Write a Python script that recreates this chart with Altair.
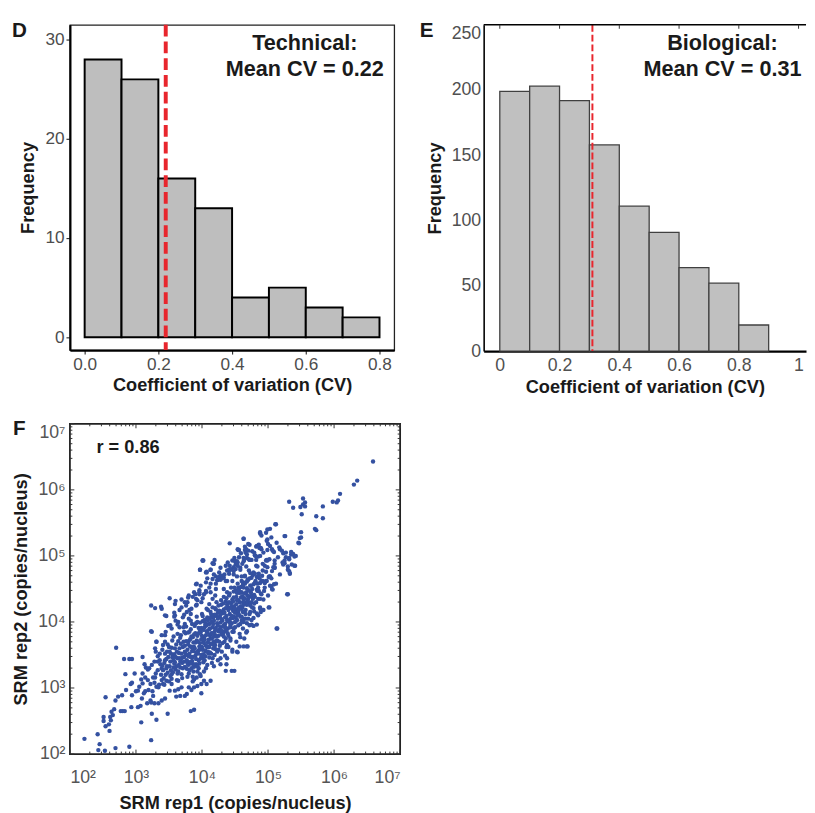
import altair as alt
import pandas as pd

FONT = "Liberation Sans"

# ---------------- Panel D: technical CV histogram ----------------
tech_edges = [0.0, 0.1, 0.2, 0.3, 0.4, 0.5, 0.6, 0.7, 0.8]
tech_counts = [28, 26, 16, 13, 4, 5, 3, 2]
tech_mean_cv = [0.22]
tech_note = ["Technical:", "Mean CV = 0.22"]
tech_xticks = [0.0, 0.2, 0.4, 0.6, 0.8]
tech_yticks = [0, 10, 20, 30]

# ---------------- Panel E: biological CV histogram ----------------
bio_edges = [0.0, 0.1, 0.2, 0.3, 0.4, 0.5, 0.6, 0.7, 0.8, 0.9]
bio_counts = [199, 203, 192, 158, 111, 91, 64, 52, 20]
bio_mean_cv = [0.31]
bio_note = ["Biological:", "Mean CV = 0.31"]
bio_xticks = [0, 0.2, 0.4, 0.6, 0.8, 1.0]
bio_yticks = [0, 50, 100, 150, 200, 250]

# ---------------- Panel F: SRM rep1 vs rep2 (log10 copies/nucleus) ----------------
corr_note = "r = 0.86"
decade_ticks = [1e2, 1e3, 1e4, 1e5, 1e6, 1e7]
minor_steps = [2, 3, 4, 5, 6, 7, 8, 9]

high_tail = [
    (6.59, 6.43), (6.35, 6.14), (6.30, 6.08), (6.09, 5.94), (6.06, 5.84), (6.04, 5.81),
    (5.98, 5.82), (5.83, 5.75), (5.83, 5.57), (5.73, 5.60), (5.71, 5.41), (5.73, 5.39),
    (5.32, 5.82), (5.38, 5.73), (5.49, 5.74), (5.53, 5.87), (5.56, 5.81), (5.53, 5.78),
    (5.56, 5.75), (5.51, 5.63), (5.50, 5.36), (5.46, 5.20), (5.48, 5.27), (5.12, 5.48),
    (5.03, 5.41), (5.26, 5.30), (4.97, 5.35), (4.99, 5.25), (4.88, 5.34), (4.63, 5.26),
    (4.42, 5.19),
]

upper_spread = [
    (4.54, 5.10), (4.65, 5.14), (4.72, 5.17), (4.83, 5.15), (4.90, 5.10), (4.99, 5.09),
    (5.07, 5.08), (5.18, 5.10), (5.23, 5.04), (5.27, 4.98), (5.32, 4.95), (5.35, 5.02),
    (5.40, 4.99), (5.41, 4.85), (5.32, 4.77), (5.23, 4.87), (5.10, 4.93), (4.97, 4.93),
    (5.33, 4.73), (5.29, 4.42), (5.13, 3.90), (5.01, 4.22), (4.93, 4.34), (5.06, 4.50),
    (5.01, 4.68), (5.11, 5.48), (4.99, 5.40), (4.88, 5.36), (4.90, 5.31), (5.25, 5.30),
    (5.50, 5.28), (5.47, 5.19), (5.05, 5.28), (4.98, 5.23), (4.63, 5.26), (4.70, 5.18),
    (4.67, 5.10), (4.56, 5.09), (4.82, 5.14), (4.89, 5.12), (5.03, 5.15), (5.09, 5.06),
    (5.17, 5.13), (5.21, 5.08), (5.27, 5.05), (5.35, 5.06), (5.38, 5.03), (5.42, 5.00),
    (5.32, 4.97), (5.25, 4.89), (5.30, 4.84), (5.36, 4.87), (5.10, 4.82), (4.98, 4.94),
    (4.95, 4.85), (4.85, 4.99), (4.80, 5.01), (4.75, 4.94), (4.68, 4.97), (4.63, 4.92),
    (4.67, 4.84), (4.58, 4.82), (4.51, 4.87), (4.42, 4.85), (4.48, 4.77), (4.38, 4.78),
    (4.28, 4.70), (4.21, 4.69), (4.28, 4.64), (4.01, 4.93), (3.97, 4.79), (4.07, 4.75),
    (4.13, 4.79), (4.19, 4.94), (4.17, 4.88), (3.92, 4.58), (4.36, 4.62), (4.46, 4.62),
    (4.53, 4.69), (4.60, 4.69), (4.70, 4.64), (4.78, 4.75), (4.85, 4.69), (4.92, 4.62),
    (5.02, 4.69), (5.09, 4.57), (4.80, 4.59), (4.95, 4.59), (4.62, 4.59), (4.55, 5.09),
    (4.65, 5.09), (4.18, 4.88), (4.53, 4.92), (4.41, 4.79), (4.48, 4.83), (4.58, 4.79),
    (4.26, 4.68), (4.33, 4.67), (4.38, 4.62), (4.48, 4.72), (4.02, 4.93), (4.06, 4.75),
    (4.16, 4.89), (4.24, 4.64), (4.30, 4.70), (4.43, 4.79), (4.50, 4.92), (4.54, 4.85),
    (4.63, 4.97), (4.68, 5.02), (4.72, 4.94), (4.82, 4.94), (4.88, 5.00), (4.84, 4.84),
    (4.73, 4.74), (4.65, 4.69),
]

right_spread = [
    (4.99, 4.93), (5.10, 4.82), (5.30, 4.79), (5.33, 4.74), (5.40, 4.85), (5.25, 4.93),
    (5.03, 4.69), (4.97, 4.62), (5.05, 4.54), (5.07, 4.49), (5.30, 4.42), (5.02, 4.22),
    (4.89, 4.15), (4.78, 4.21), (4.79, 4.16), (4.83, 3.96), (4.75, 3.96), (5.14, 3.90),
    (4.70, 4.05), (4.63, 4.00), (4.68, 3.86), (4.64, 3.75), (4.58, 3.77), (4.69, 3.63),
    (4.57, 3.63), (4.54, 3.54), (4.88, 4.59), (4.83, 4.49), (4.73, 4.39), (4.75, 4.30),
    (4.63, 4.35), (4.60, 4.20), (4.85, 4.35), (4.90, 4.42), (4.78, 3.94), (4.68, 3.63),
    (4.63, 3.63), (4.53, 3.55), (4.49, 3.26), (4.45, 3.26), (4.36, 3.26), (4.37, 3.36),
    (4.28, 3.36), (4.18, 3.33), (4.13, 3.11), (4.07, 3.06), (3.99, 2.92), (3.88, 2.67),
    (3.83, 2.65), (3.67, 2.88), (3.77, 2.91), (4.73, 4.15), (4.63, 4.05), (4.55, 3.95),
    (4.48, 3.85), (4.43, 3.75), (4.36, 3.75), (4.38, 3.65), (4.46, 3.55), (4.38, 3.45),
    (4.28, 3.45), (4.23, 3.55), (4.18, 3.65), (4.13, 3.75), (4.20, 3.80), (4.28, 3.85),
    (4.33, 3.95), (4.40, 4.02), (4.48, 4.08), (4.55, 4.16), (4.60, 4.08), (4.68, 3.98),
    (4.75, 4.03), (4.83, 4.13), (4.88, 4.22), (4.50, 4.00), (4.43, 3.92), (4.01, 3.45),
    (4.06, 3.55), (4.11, 3.62), (4.16, 3.45), (4.08, 3.35), (4.03, 3.25), (3.93, 3.25),
    (3.86, 3.10), (3.81, 3.27), (3.88, 3.32), (3.96, 3.37), (3.80, 3.01), (3.84, 2.97),
    (3.88, 3.01), (3.93, 3.03), (3.99, 3.06), (4.03, 3.11), (3.98, 3.18), (3.92, 3.16),
    (3.86, 3.17),
]

low_tail = [
    (2.22, 2.23), (2.42, 2.30), (2.45, 2.15), (2.43, 2.06), (2.53, 2.05), (2.69, 2.09),
    (2.90, 2.11), (3.23, 2.21), (3.08, 2.48), (3.31, 2.52), (3.48, 2.61), (3.24, 2.61),
    (2.54, 2.42), (2.51, 2.50), (2.51, 2.56), (2.60, 2.35), (2.59, 2.45), (2.62, 2.51),
    (2.61, 2.56), (2.65, 2.59), (2.63, 2.64), (2.67, 2.68), (2.54, 2.86), (2.69, 2.81),
    (2.73, 2.87), (2.79, 2.89), (2.77, 2.65), (2.80, 2.65), (2.83, 2.65), (2.84, 3.21),
    (2.85, 2.97), (2.92, 3.06), (2.94, 3.08), (2.94, 2.89), (2.70, 3.61), (2.82, 3.44),
    (2.90, 3.44), (2.94, 3.44), (3.10, 3.47), (2.93, 2.71), (3.03, 2.71), (3.07, 2.73),
    (3.09, 2.84), (3.03, 2.96), (3.14, 2.95), (3.19, 2.97), (3.17, 2.77), (3.22, 2.81),
    (3.26, 2.88), (3.28, 2.77), (3.34, 2.77), (3.39, 2.81), (3.44, 2.84), (3.10, 3.07),
    (3.14, 3.16), (3.08, 3.13), (3.10, 3.22), (3.15, 3.31), (3.13, 3.36), (3.18, 3.28),
    (3.24, 3.35), (3.30, 3.55), (3.31, 3.70), (3.44, 3.70), (3.33, 3.40), (3.39, 3.30),
    (3.22, 3.06), (3.29, 3.16), (3.34, 3.01), (3.41, 3.06), (3.46, 3.11), (3.54, 3.06),
    (3.51, 2.96), (3.59, 2.96), (3.64, 2.98), (3.69, 3.01), (3.74, 2.88), (3.61, 2.87),
    (3.54, 3.21), (3.64, 3.11), (3.23, 2.78), (3.20, 3.30), (3.25, 2.95), (3.12, 2.92),
    (3.18, 3.12), (3.28, 3.08), (3.05, 3.02), (3.00, 2.95), (2.98, 3.22),
]

mid_left = [
    (3.68, 3.80), (3.73, 3.85), (3.66, 3.92), (3.74, 3.97), (3.80, 4.05), (3.77, 4.15),
    (3.84, 4.20), (3.91, 4.35), (3.92, 4.26), (3.99, 4.30), (4.06, 4.45), (3.96, 4.45),
    (3.90, 4.42), (3.80, 4.40), (3.74, 4.30), (3.60, 4.32), (3.51, 4.36), (3.39, 4.20),
    (3.38, 4.23), (3.23, 4.25), (3.24, 3.85), (3.46, 4.09), (3.59, 4.10), (3.54, 3.90),
    (3.44, 3.80), (3.29, 4.21), (3.44, 4.10), (3.58, 4.14), (3.64, 4.00), (3.49, 3.94),
    (3.23, 3.86), (3.39, 3.80), (3.31, 3.70), (3.41, 3.65), (3.29, 3.60), (3.69, 4.34),
    (3.79, 4.37), (3.59, 4.27), (4.01, 4.93), (3.97, 4.79), (4.13, 4.79), (4.07, 4.76),
    (3.91, 4.57), (4.06, 4.47), (3.96, 4.42), (4.13, 4.45), (4.21, 4.50), (4.33, 4.50),
    (4.20, 4.40), (4.16, 4.35), (4.11, 4.27), (4.07, 4.20),
]

core = [
    (3.41, 3.27), (3.47, 3.55), (3.51, 3.33), (3.54, 3.61), (3.57, 3.42), (3.60, 3.28),
    (3.62, 3.55), (3.64, 3.71), (3.67, 3.31), (3.69, 3.52), (3.71, 3.62), (3.73, 3.40),
    (3.75, 3.83), (3.78, 3.58), (3.80, 3.71), (3.81, 3.52), (3.83, 3.89), (3.84, 3.62),
    (3.86, 3.47), (3.88, 3.81), (3.89, 3.60), (3.91, 3.98), (3.92, 3.72), (3.94, 3.56),
    (3.95, 3.91), (3.97, 3.68), (3.98, 3.84), (4.00, 3.62), (4.01, 4.01), (4.03, 3.77),
    (4.04, 3.92), (4.05, 3.57), (4.07, 3.86), (4.08, 4.07), (4.09, 3.69), (4.11, 3.97),
    (4.12, 3.80), (4.13, 4.15), (4.15, 3.75), (4.16, 3.92), (4.17, 4.07), (4.19, 3.85),
    (4.20, 4.21), (4.21, 3.71), (4.23, 3.98), (4.24, 4.14), (4.25, 3.79), (4.27, 4.08),
    (4.28, 3.92), (4.29, 4.33), (4.31, 4.02), (4.32, 3.82), (4.33, 4.19), (4.35, 3.97),
    (4.36, 4.31), (4.37, 4.09), (4.39, 3.90), (4.40, 4.22), (4.41, 4.40), (4.43, 4.05),
    (4.44, 4.28), (4.45, 3.98), (4.47, 4.17), (4.48, 4.46), (4.49, 4.24), (4.51, 4.07),
    (4.52, 4.38), (4.54, 4.18), (4.55, 4.52), (4.57, 4.30), (4.58, 4.08), (4.60, 4.45),
    (4.61, 4.22), (4.63, 4.60), (4.64, 4.36), (4.66, 4.18), (4.68, 4.51), (4.70, 4.30),
    (4.72, 4.66), (4.74, 4.45), (4.76, 4.22), (4.78, 4.57), (4.80, 4.38), (4.83, 4.68),
    (4.85, 4.52), (4.88, 4.35), (4.91, 4.70), (4.94, 4.47), (4.98, 4.62),
    (3.36, 3.42), (3.39, 3.12), (3.43, 3.38), (3.45, 3.20), (3.49, 3.47), (3.52, 3.18),
    (3.56, 3.50), (3.58, 3.37), (3.63, 3.45), (3.66, 3.60), (3.70, 3.46), (3.74, 3.64),
    (3.77, 3.50), (3.79, 3.35), (3.82, 3.74), (3.85, 3.56), (3.87, 3.69), (3.90, 3.49),
    (3.93, 3.79), (3.96, 3.58), (3.99, 3.91), (4.02, 3.70), (4.06, 3.98), (4.10, 3.62),
    (4.14, 4.00), (4.18, 3.70), (4.22, 4.09), (4.26, 3.88), (4.30, 4.16), (4.34, 3.86),
    (4.38, 4.26), (4.42, 4.00), (4.46, 4.34), (4.50, 4.14), (4.53, 4.44), (4.56, 4.22),
    (4.59, 4.53), (4.62, 4.30), (4.65, 4.58), (4.69, 4.40), (4.73, 4.55), (4.77, 4.35),
    (4.81, 4.62), (4.86, 4.47),
    (3.52, 3.40), (3.55, 3.72), (3.58, 3.51), (3.61, 3.33), (3.63, 3.82), (3.66, 3.45),
    (3.68, 3.67), (3.70, 3.38), (3.72, 3.92), (3.74, 3.55), (3.76, 3.71), (3.77, 3.29),
    (3.79, 3.84), (3.80, 3.48), (3.82, 3.63), (3.83, 4.02), (3.85, 3.41), (3.86, 3.77),
    (3.87, 3.56), (3.89, 3.94), (3.90, 3.69), (3.91, 3.36), (3.92, 4.08), (3.94, 3.52),
    (3.95, 3.83), (3.96, 3.63), (3.97, 3.99), (3.98, 3.45), (3.99, 3.74), (4.00, 4.12),
    (4.01, 3.58), (4.02, 3.88), (4.03, 3.68), (4.04, 4.03), (4.05, 3.48), (4.06, 3.80),
    (4.07, 3.95), (4.08, 3.62), (4.09, 4.18), (4.10, 3.73), (4.11, 3.89), (4.12, 3.54),
    (4.13, 4.06), (4.14, 3.83), (4.15, 3.67), (4.16, 4.22), (4.17, 3.97), (4.18, 3.78),
    (4.19, 4.11), (4.20, 3.59), (4.21, 3.91), (4.22, 4.30), (4.23, 3.72), (4.24, 4.05),
    (4.25, 3.86), (4.26, 4.17), (4.27, 3.64), (4.28, 3.99), (4.29, 4.26), (4.30, 3.81),
    (4.31, 4.13), (4.32, 3.93), (4.33, 4.38), (4.34, 3.70), (4.35, 4.07), (4.36, 4.21),
    (4.37, 3.88), (4.38, 4.45), (4.39, 4.01), (4.40, 3.79), (4.41, 4.30), (4.42, 4.12),
    (4.43, 3.94), (4.44, 4.52), (4.45, 4.23), (4.46, 3.85), (4.47, 4.06), (4.48, 4.37),
    (4.49, 4.16), (4.50, 3.92), (4.51, 4.48), (4.52, 4.27), (4.53, 4.03), (4.54, 4.58),
    (4.55, 4.33), (4.56, 4.11), (4.57, 4.44), (4.58, 3.97), (4.59, 4.24), (4.60, 4.62),
    (4.61, 4.39), (4.62, 4.15), (4.63, 4.52), (4.64, 4.30), (4.65, 4.70), (4.66, 4.05),
    (4.67, 4.45), (4.68, 4.26), (4.69, 4.64), (4.70, 4.36), (4.71, 4.78), (4.72, 4.12),
    (4.74, 4.55), (4.76, 4.40), (4.77, 4.71), (4.79, 4.28), (4.81, 4.60), (4.82, 4.85),
    (4.84, 4.47), (4.86, 4.73), (4.88, 4.20), (4.90, 4.62), (4.92, 4.88), (4.95, 4.52),
    (4.97, 4.76), (5.00, 4.40), (5.02, 4.95), (5.05, 4.66), (5.08, 4.83), (5.12, 4.58),
    (5.15, 4.98), (5.18, 4.72), (5.22, 4.90),
    (3.30, 3.22), (3.33, 3.48), (3.35, 3.05), (3.37, 3.36), (3.40, 3.58), (3.42, 3.15),
    (3.44, 3.42), (3.46, 3.30), (3.48, 3.66), (3.50, 3.10), (3.53, 3.52), (3.56, 3.24),
    (3.59, 3.60), (3.62, 3.12), (3.65, 3.35), (3.69, 3.21), (3.73, 3.47), (3.78, 3.17),
    (3.81, 3.39), (3.84, 3.30), (3.88, 3.13), (3.93, 3.33), (3.97, 3.21), (4.02, 3.39),
    (4.06, 3.30), (4.11, 3.46), (4.15, 3.38), (4.19, 3.50), (4.24, 3.42), (4.30, 3.55),
    (4.35, 3.49), (4.40, 3.62), (4.46, 3.58), (4.52, 3.70), (4.57, 3.82), (4.62, 3.90),
    (4.67, 3.84), (4.72, 3.95), (4.78, 4.06), (4.85, 4.10), (4.93, 4.18),
    (3.45, 3.85), (3.52, 3.95), (3.60, 4.02), (3.66, 4.18), (3.71, 4.07), (3.76, 4.25),
    (3.81, 4.18), (3.86, 4.38), (3.91, 4.25), (3.96, 4.48), (4.01, 4.36), (4.06, 4.60),
    (4.11, 4.52), (4.16, 4.65), (4.21, 4.58), (4.26, 4.75), (4.31, 4.66), (4.36, 4.85),
    (4.41, 4.73), (4.46, 4.93), (4.51, 4.80), (4.56, 4.98), (4.61, 4.88), (4.66, 5.05),
    (4.71, 4.95), (4.76, 5.07), (4.81, 5.00), (4.87, 5.12), (4.93, 5.05), (5.00, 5.18),
    (5.06, 5.10), (5.13, 5.20),
]

core_dense = [
    (3.44, 3.52), (3.47, 3.33), (3.50, 3.62), (3.53, 3.27), (3.55, 3.46), (3.57, 3.78),
    (3.59, 3.39), (3.61, 3.66), (3.64, 3.25), (3.65, 3.53), (3.67, 3.76), (3.68, 3.43),
    (3.71, 3.30), (3.72, 3.70), (3.75, 3.52), (3.76, 3.93), (3.78, 3.38), (3.79, 3.66),
    (3.81, 3.85), (3.83, 3.47), (3.84, 3.78), (3.85, 3.97), (3.87, 3.36), (3.88, 3.62),
    (3.90, 3.83), (3.91, 3.54), (3.93, 4.00), (3.94, 3.70), (3.95, 3.42), (3.97, 3.87),
    (3.98, 3.61), (4.00, 3.79), (4.01, 4.09), (4.02, 3.51), (4.04, 3.73), (4.05, 3.96),
    (4.06, 3.64), (4.08, 3.84), (4.09, 4.03), (4.10, 3.52), (4.12, 3.90), (4.13, 3.67),
    (4.14, 4.11), (4.16, 3.83), (4.17, 3.60), (4.18, 4.02), (4.20, 3.88), (4.21, 4.19),
    (4.22, 3.78), (4.24, 3.95), (4.25, 4.25), (4.26, 3.70), (4.28, 4.12), (4.29, 3.87),
    (4.30, 4.04), (4.32, 4.28), (4.33, 3.78), (4.34, 4.14), (4.35, 3.92), (4.37, 4.36),
    (4.38, 4.03), (4.39, 3.83), (4.40, 4.18), (4.42, 4.43), (4.43, 3.97), (4.44, 4.21),
    (4.45, 4.09), (4.47, 4.31), (4.48, 3.90), (4.49, 4.52), (4.50, 4.20), (4.52, 4.02),
    (4.53, 4.33), (4.54, 4.11), (4.56, 4.48), (4.57, 4.20), (4.59, 4.37), (4.60, 4.02),
    (4.62, 4.56), (4.63, 4.26), (4.65, 4.43), (4.66, 4.12), (4.68, 4.61), (4.69, 4.33),
    (4.71, 4.48), (4.73, 4.25), (4.75, 4.67), (4.76, 4.50), (4.79, 4.41), (4.80, 4.73),
    (4.82, 4.30), (4.84, 4.58), (4.87, 4.66), (4.89, 4.43), (4.92, 4.78), (4.95, 4.60),
    (4.99, 4.83), (5.03, 4.55), (5.06, 4.77), (5.10, 4.88),
    (3.26, 3.16), (3.28, 3.40), (3.31, 3.02), (3.33, 3.27), (3.36, 3.52), (3.38, 3.20),
    (3.40, 3.34), (3.43, 3.05), (3.46, 3.44), (3.48, 3.23), (3.51, 3.55), (3.54, 3.14),
    (3.57, 3.31), (3.60, 3.47), (3.63, 3.22), (3.67, 3.40), (3.70, 3.15), (3.74, 3.32),
    (3.77, 3.42), (3.80, 3.22), (3.83, 3.37), (3.87, 3.25), (3.91, 3.44), (3.95, 3.30),
    (3.99, 3.50), (4.04, 3.42), (4.09, 3.55), (4.14, 3.52), (4.20, 3.65), (4.25, 3.58),
    (4.31, 3.68), (4.37, 3.62), (4.43, 3.72),
    (3.58, 4.08), (3.63, 3.96), (3.69, 4.22), (3.73, 4.11), (3.78, 4.30), (3.83, 4.12),
    (3.88, 4.45), (3.93, 4.33), (3.98, 4.55), (4.03, 4.42), (4.08, 4.66), (4.13, 4.58),
    (4.18, 4.72), (4.23, 4.63), (4.28, 4.82), (4.34, 4.72), (4.39, 4.90), (4.44, 4.80),
    (4.49, 4.97), (4.54, 4.90), (4.59, 5.04), (4.64, 4.94), (4.70, 5.08), (4.79, 5.05),
    (4.86, 5.17),
]

# ---------------- shared styles ----------------
LABEL_GRAY = "#4d4d4d"
TITLE_COL = "#1a1a1a"
one_row = pd.DataFrame({"k": [0]})


def title_style(pad):
    return dict(titleFont=FONT, titleFontSize=18.5, titleFontWeight="bold",
                titleColor=TITLE_COL, titlePadding=pad)


# ================= Panel D =================
DW, DH = 330, 331
d_df = pd.DataFrame({"lo": tech_edges[:-1], "hi": tech_edges[1:], "n": tech_counts})
d_df["base"] = 0
dxs = alt.Scale(domain=[-0.04, 0.84], nice=False, zero=False)
dys = alt.Scale(domain=[-1.3, 31.5], nice=False, zero=False)
d_xaxis = alt.Axis(title="Coefficient of variation (CV)", values=tech_xticks, format=".1f",
                   grid=False, labelFont=FONT, labelFontSize=17.5, labelColor=LABEL_GRAY,
                   labelPadding=2, tickColor="#333333", tickSize=4, tickWidth=1.2,
                   domainColor="black", domainWidth=2.2, **title_style(3))
d_yaxis = alt.Axis(title="Frequency", values=tech_yticks, format="d", grid=False,
                   labelFont=FONT, labelFontSize=17.5, labelColor=LABEL_GRAY, labelPadding=2,
                   tickColor="#333333", tickSize=4, tickWidth=1.2,
                   domainColor="black", domainWidth=2.2, **title_style(8))
d_bars = alt.Chart(d_df).mark_rect(fill="#bebebe", stroke="black", strokeWidth=2).encode(
    x=alt.X("lo:Q", scale=dxs, axis=d_xaxis), x2="hi:Q",
    y=alt.Y("n:Q", scale=dys, axis=d_yaxis), y2="base:Q")
d_rule = alt.Chart(pd.DataFrame({"cv": tech_mean_cv})).mark_rule(
    color="#e8262d", strokeWidth=4, strokeDash=[12, 5]).encode(x=alt.X("cv:Q", scale=dxs))
d_note = alt.Chart(one_row).mark_text(
    text=tech_note, font=FONT, fontSize=22, fontWeight="bold", align="center",
    baseline="alphabetic", lineHeight=26, color=TITLE_COL).encode(
    x=alt.value(239), y=alt.value(26))
d_letter = alt.Chart(one_row).mark_text(
    text="D", font=FONT, fontSize=21, fontWeight="bold", align="left",
    baseline="alphabetic", color=TITLE_COL).encode(x=alt.value(-59), y=alt.value(12))
panel_d = alt.layer(d_bars, d_rule, d_note, d_letter).properties(
    width=DW, height=DH, view=alt.ViewBackground(stroke="#222222", strokeWidth=1.3))

# ================= Panel E =================
EW, EH = 328, 332
e_df = pd.DataFrame({"lo": bio_edges[:-1], "hi": bio_edges[1:], "n": bio_counts})
e_df["base"] = 0
exs = alt.Scale(domain=[-0.054, 1.025], nice=False, zero=False)
eys = alt.Scale(domain=[0, 250], nice=False, zero=False)
e_xaxis = alt.Axis(title="Coefficient of variation (CV)", values=bio_xticks, format="~g",
                   grid=False, ticks=False, labelFont=FONT, labelFontSize=18,
                   labelColor="#505050", labelPadding=6, domainColor="black",
                   domainWidth=2.4, **title_style(3))
e_yaxis = alt.Axis(title="Frequency", values=bio_yticks, format="d", grid=False, ticks=False,
                   labelFont=FONT, labelFontSize=18, labelColor="#505050", labelPadding=3,
                   labelBaseline={"condition": {"test": "datum.value == 250", "value": "top"},
                                  "value": "middle"},
                   domainColor="black", domainWidth=1.6, **title_style(7))
e_bars = alt.Chart(e_df).mark_rect(fill="#c0c0c0", stroke="#404040", strokeWidth=1.3).encode(
    x=alt.X("lo:Q", scale=exs, axis=e_xaxis), x2="hi:Q",
    y=alt.Y("n:Q", scale=eys, axis=e_yaxis), y2="base:Q")
e_rule = alt.Chart(pd.DataFrame({"cv": bio_mean_cv})).mark_rule(
    color="#e8262d", strokeWidth=2, strokeDash=[7, 3]).encode(x=alt.X("cv:Q", scale=exs))
e_top = alt.Chart(one_row).mark_rule(color="black", strokeWidth=1.6).encode(
    x=alt.value(0), x2=alt.value(EW), y=alt.value(0))
e_topticks = alt.Chart(pd.DataFrame({"t": bio_xticks})).mark_rule(
    color="#333333", strokeWidth=1).encode(
    x=alt.X("t:Q", scale=exs), y=alt.value(0), y2=alt.value(4))
e_note = alt.Chart(one_row).mark_text(
    text=bio_note, font=FONT, fontSize=22, fontWeight="bold", align="center",
    baseline="alphabetic", lineHeight=26, color=TITLE_COL).encode(
    x=alt.value(243), y=alt.value(26))
e_letter = alt.Chart(one_row).mark_text(
    text="E", font=FONT, fontSize=21, fontWeight="bold", align="left",
    baseline="alphabetic", color=TITLE_COL).encode(x=alt.value(-65), y=alt.value(12))
panel_e = alt.layer(e_bars, e_rule, e_top, e_topticks, e_note, e_letter).properties(
    width=EW, height=EH, view=alt.ViewBackground(strokeOpacity=0))

# ================= Panel F =================
FW, FH = 336, 336
pts = high_tail + upper_spread + right_spread + low_tail + mid_left + core + core_dense
f_df = pd.DataFrame({"rep1": [10 ** a for a, b in pts], "rep2": [10 ** b for a, b in pts]})
fxs = alt.Scale(type="log", domain=[1e2, 1e7], nice=False)
fys = alt.Scale(type="log", domain=[1e2, 1e7], nice=False)
sup_expr = ("'10' + ['\u2070','\u00b9','\u00b2','\u00b3','\u2074','\u2075','\u2076','\u2077']"
            "[round(log(datum.value) / LN10)]")
f_xaxis = alt.Axis(title="SRM rep1 (copies/nucleus)", values=decade_ticks, labelExpr=sup_expr,
                   grid=False, ticks=False, domain=False, labelFont=FONT, labelFontSize=18,
                   labelColor="#555555", labelPadding=15, **title_style(7))
f_yaxis = alt.Axis(title="SRM rep2 (copies/nucleus)", values=decade_ticks, labelExpr=sup_expr,
                   grid=False, ticks=False, domain=False, labelFont=FONT, labelFontSize=18,
                   labelColor="#555555", labelPadding=5,
                   labelBaseline={"condition": {"test": "datum.value >= 1e7", "value": "top"},
                                  "value": "middle"},
                   **title_style(7))
f_points = alt.Chart(f_df).mark_circle(size=20, color="#3451a1", opacity=1).encode(
    x=alt.X("rep1:Q", scale=fxs, axis=f_xaxis), y=alt.Y("rep2:Q", scale=fys, axis=f_yaxis))

minor_ticks = [m * d for d in decade_ticks[:-1] for m in minor_steps]


def tick_layers(values, length):
    base = alt.Chart(pd.DataFrame({"t": values})).mark_rule(color="#333333", strokeWidth=1)
    return [
        base.encode(x=alt.X("t:Q", scale=fxs), y=alt.value(FH), y2=alt.value(FH - length)),
        base.encode(x=alt.X("t:Q", scale=fxs), y=alt.value(0), y2=alt.value(length)),
        base.encode(y=alt.Y("t:Q", scale=fys), x=alt.value(0), x2=alt.value(length)),
        base.encode(y=alt.Y("t:Q", scale=fys), x=alt.value(FW), x2=alt.value(FW - length)),
    ]


f_note = alt.Chart(one_row).mark_text(
    text=corr_note, font=FONT, fontSize=18.5, fontWeight="bold", align="left",
    baseline="alphabetic", color=TITLE_COL).encode(x=alt.value(27), y=alt.value(30))
f_letter = alt.Chart(one_row).mark_text(
    text="F", font=FONT, fontSize=21, fontWeight="bold", align="left",
    baseline="alphabetic", color=TITLE_COL).encode(x=alt.value(-58), y=alt.value(11))
panel_f = alt.layer(f_points, *tick_layers(decade_ticks, 4.5), *tick_layers(minor_ticks, 2.5),
                    f_note, f_letter).properties(
    width=FW, height=FH, view=alt.ViewBackground(stroke="#222222", strokeWidth=1.8))

chart = alt.concat(panel_d, panel_e, panel_f, columns=2,
                   spacing={"row": 74, "column": 85}, bounds="flush", align="each").properties(
    padding={"left": 3, "top": 4, "right": 0, "bottom": 0}
).configure(font=FONT)

chart.save("out.html", embed_options={"renderer": "svg", "actions": False})
